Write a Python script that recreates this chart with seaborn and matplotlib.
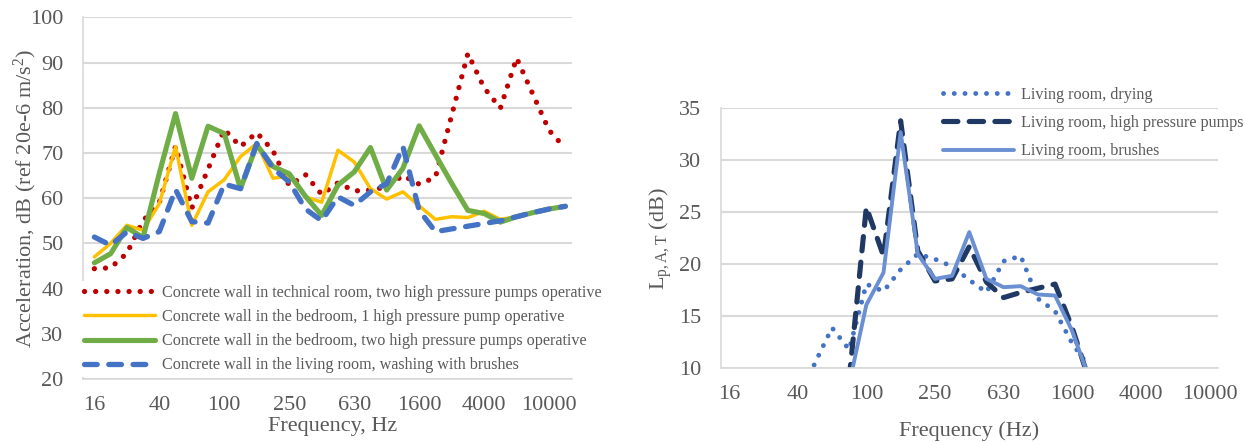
import matplotlib.pyplot as plt
import numpy as np
import seaborn as sns
from matplotlib.ticker import MultipleLocator

# third-octave bands (left chart has one more band, 12500 Hz)
bands = ["16", "20", "25", "31.5", "40", "50", "63", "80", "100", "125", "160", "200",
         "250", "315", "400", "500", "630", "800", "1000", "1250", "1600", "2000",
         "2500", "3150", "4000", "5000", "6300", "8000", "10000", "12500"]
bands_right = bands[:29]

# left chart: acceleration, dB
tech_room = [44.4, 44.6, 47.8, 55.0, 59.0, 71.5, 57.8, 66.4, 75.2, 71.4, 74.5, 70.5, 62.8, 65.2, 60.8,
             63.4, 61.6, 61.8, 62.5, 65.0, 63.1, 64.6, 78.3, 92.0, 84.4, 79.9, 91.0, 83.0, 75.0, 71.0]
bedroom_one = [47.0, 50.0, 54.0, 52.9, 58.8, 71.4, 54.0, 61.4, 64.1, 69.2, 72.1, 64.4, 64.9, 60.3, 59.1,
               70.6, 68.0, 62.1, 59.8, 61.4, 58.3, 55.3, 55.9, 55.7, 57.1, 55.3, 55.9, 56.8, 57.6, 58.2]
bedroom_two = [45.7, 47.7, 53.5, 51.3, 65.5, 78.7, 64.4, 75.9, 74.3, 62.1, 71.8, 67.0, 65.4, 60.4, 56.2,
               62.9, 65.8, 71.2, 61.8, 66.6, 76.0, 69.6, 63.3, 57.3, 56.6, 54.7, 55.9, 56.8, 57.6, 58.2]
living_brush = [51.4, 49.6, 52.5, 51.1, 52.6, 61.9, 54.8, 54.5, 63.1, 62.1, 72.1, 66.6, 63.6, 57.6, 55.0,
                60.3, 58.4, 61.4, 63.2, 71.4, 57.3, 52.6, 53.2, 53.8, 54.4, 55.0, 55.9, 56.8, 57.6, 58.2]

# right chart: L_p,A,T, dB (values below 10 dB are cut by the axis)
nan = np.nan
lr_drying = [nan, nan, nan, nan, 6.5, 10.5, 13.9, 11.8, 18.1, 17.4, 19.5, 21.0, 20.5, 19.8, 18.5,
             17.3, 20.3, 20.8, 16.7, 15.5, 12.4, 10.1, nan, nan, nan, nan, nan, nan, nan]
lr_pumps = [nan, nan, nan, nan, nan, nan, nan, 9.0, 25.5, 20.8, 33.8, 21.3, 18.4, 18.6, 21.7,
            18.3, 16.8, 17.3, 17.7, 18.1, 13.9, 8.8, nan, nan, nan, nan, nan, nan, nan]
lr_brushes = [nan, nan, nan, nan, nan, nan, nan, 8.5, 16.1, 19.2, 32.7, 21.0, 18.6, 18.9, 23.1,
              18.6, 17.8, 17.9, 17.1, 17.0, 13.6, 9.0, nan, nan, nan, nan, nan, nan, nan]

sns.set_theme(style="white")
plt.rcParams["font.family"] = ["Liberation Serif", "DejaVu Serif"]
plt.rcParams["mathtext.fontset"] = "custom"
plt.rcParams["mathtext.rm"] = "Liberation Serif"
plt.rcParams["mathtext.it"] = "Liberation Serif:italic"

txt = "#595959"
grid = "#d9d9d9"

fig = plt.figure(figsize=(12.44, 4.42), dpi=100)
ax1 = fig.add_axes([0.0667, 0.1425, 0.3931, 0.8183])
ax2 = fig.add_axes([0.5792, 0.1667, 0.3999, 0.5882])

x1 = np.arange(len(bands))
x2 = np.arange(len(bands_right))

sns.lineplot(x=x1, y=tech_room, ax=ax1, color="#c00000", linewidth=3.8,
             linestyle=(0, (0.01, 2.1)), dash_capstyle="round",
             label="Concrete wall in technical room, two high pressure pumps operative")
sns.lineplot(x=x1, y=bedroom_one, ax=ax1, color="#ffc000", linewidth=2.5,
             label="Concrete wall in the bedroom, 1 high pressure pump operative")
sns.lineplot(x=x1, y=bedroom_two, ax=ax1, color="#70ad47", linewidth=3.7,
             label="Concrete wall in the bedroom, two high pressure pumps operative")
sns.lineplot(x=x1, y=living_brush, ax=ax1, color="#4472c4", linewidth=3.8,
             linestyle=(0, (2.4, 2.2)), dash_capstyle="round",
             label="Concrete wall in the living room, washing with brushes")

sns.lineplot(x=x2, y=lr_drying, ax=ax2, color="#4472c4", linewidth=3.5,
             linestyle=(0, (0.01, 2.2)), dash_capstyle="round",
             label="Living room, drying")
sns.lineplot(x=x2, y=lr_pumps, ax=ax2, color="#1f3864", linewidth=3.7,
             linestyle=(0, (2.8, 2.2)), dash_capstyle="round",
             label="Living room, high pressure pumps")
sns.lineplot(x=x2, y=lr_brushes, ax=ax2, color="#6a8fd2", linewidth=2.8,
             label="Living room, brushes")

for ax, labels, lo, hi, major, minor in [(ax1, bands, 20, 100, 10, 2),
                                         (ax2, bands_right, 10, 35, 5, 1)]:
    ax.set_ylim(lo, hi)
    ax.set_xticks(np.arange(len(labels)))
    ax.set_xticklabels([b if i % 4 == 0 else "" for i, b in enumerate(labels)])
    ax.yaxis.set_major_locator(MultipleLocator(major))
    ax.yaxis.set_minor_locator(MultipleLocator(minor))
    ax.grid(axis="y", color=grid, linewidth=1.5)
    ax.set_axisbelow(True)
    for s in ["top", "right"]:
        ax.spines[s].set_visible(False)
    for s in ["left", "bottom"]:
        ax.spines[s].set_color(grid)
        ax.spines[s].set_linewidth(1.2)
    ax.tick_params(axis="both", which="both", direction="out", color="#c8c8c8",
                   length=5, width=1, labelsize=16, labelcolor=txt)
    ax.tick_params(axis="x", pad=7)
    ax.tick_params(axis="y", pad=9)

ax1.set_xlim(-0.7, 29.41)
ax2.set_xlim(-0.5, 28.5)

ax1.set_xlabel("Frequency, Hz", fontsize=16, color=txt)
ax1.set_ylabel(r"Acceleration, dB (ref 20e-6 m/s$^{\mathregular{2}}$)", fontsize=16, color=txt)
ax1.xaxis.set_label_coords(0.511, -0.104)
ax1.yaxis.set_label_coords(-0.09, 0.5)

ax2.set_xlabel("Frequency (Hz)", fontsize=16, color=txt)
ax2.set_ylabel(r"L$_{\mathregular{p,A,T}}$ (dB)", fontsize=16, color=txt)
ax2.xaxis.set_label_coords(0.5, -0.205)
ax2.yaxis.set_label_coords(-0.093, 0.5)

leg1 = ax1.legend(loc="upper left", bbox_to_anchor=(80 / 1244, 1 - 281 / 442),
                  bbox_transform=fig.transFigure, fontsize=11.6, labelcolor=txt,
                  handlelength=4.4, handletextpad=0.42, labelspacing=0.5,
                  borderpad=0.25, borderaxespad=0, frameon=True, facecolor="white",
                  edgecolor="none", framealpha=1, fancybox=False)
leg2 = ax2.legend(loc="upper left", bbox_to_anchor=(943 / 1244, 1 - 87 / 442),
                  bbox_transform=fig.transFigure, fontsize=11.6, labelcolor=txt,
                  handlelength=4.4, handletextpad=0.42, labelspacing=0.75,
                  borderpad=0, borderaxespad=0, frameon=False)

plt.savefig("out.png", dpi=100)
